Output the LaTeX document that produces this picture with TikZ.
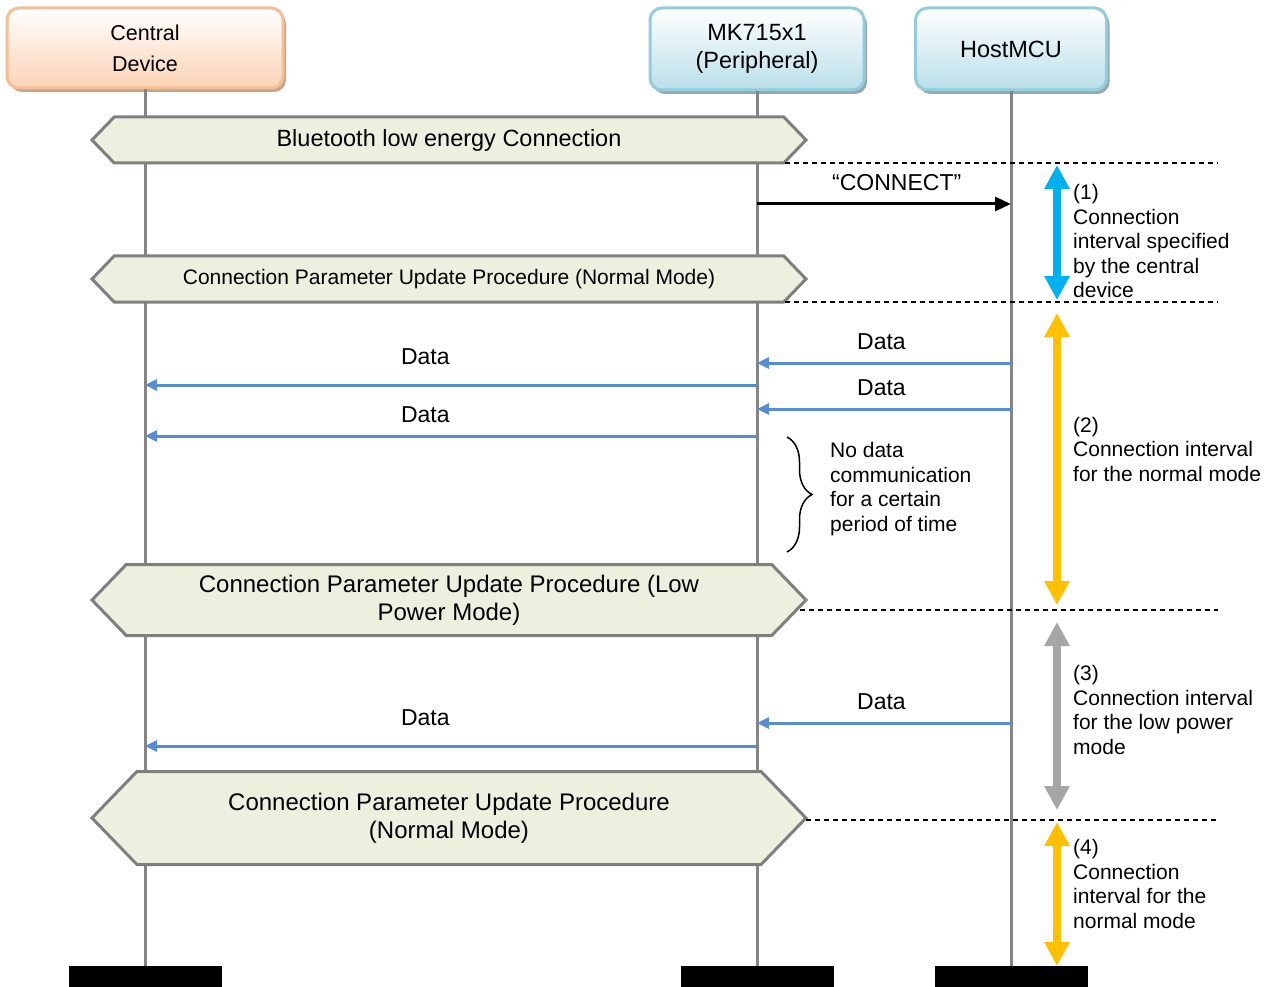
\documentclass[tikz,border=0pt]{standalone}
\usepackage{fontspec}
\setmainfont{Liberation Sans}
\usetikzlibrary{arrows.meta,positioning,shapes.symbols,shadows,decorations.pathreplacing}

\definecolor{orline}{HTML}{F6BE94}
\definecolor{orfill}{HTML}{FBD3B5}
\definecolor{orshade}{HTML}{C9A488}
\definecolor{blline}{HTML}{93CDDD}
\definecolor{blfill}{HTML}{B9DFE9}
\definecolor{blshade}{HTML}{93A9B0}
\definecolor{hexfill}{HTML}{EBF1DE}
\definecolor{hexline}{HTML}{7F7F7F}
\definecolor{lifegray}{HTML}{858585}
\definecolor{datablue}{HTML}{558ED5}
\definecolor{intcyan}{HTML}{00B0F0}
\definecolor{intgold}{HTML}{FFC000}
\definecolor{intgray}{HTML}{A6A6A6}

\tikzset{
    head/.style={rectangle, rounded corners=12pt, line width=3pt, align=center,
        minimum height=80pt, font=\fontsize{23.5}{28}\selectfont},
    cenbox/.style={draw=orline, top color=white, bottom color=orfill,
        drop shadow={shadow xshift=3pt, shadow yshift=-4pt, fill=orshade, opacity=1}},
    mkbox/.style={draw=blline, top color=white, bottom color=blfill,
        drop shadow={shadow xshift=3pt, shadow yshift=-4pt, fill=blshade, opacity=1}},
    bar/.style={fill=black, minimum width=153pt, minimum height=21pt, inner sep=0pt},
    life/.style={draw=lifegray, line width=3pt},
    hexa/.style={shape=signal, signal to=west and east, signal pointer angle=92,
        draw=hexline, fill=hexfill, line width=3pt, minimum width=714pt,
        align=center, inner sep=0pt},
    conn/.style={black, line width=3pt, -{Triangle[length=16pt,width=14pt]}},
    data/.style={datablue, line width=3pt, -{Triangle[length=12pt,width=11pt]}},
    intv/.style={line width=8pt, {Triangle[length=24pt,width=24pt]}-{Triangle[length=24pt,width=24pt]}},
    lbl/.style={inner sep=0pt, black, font=\fontsize{23}{28}\selectfont},
    note/.style={anchor=west, align=left, inner sep=0pt, font=\fontsize{21}{24.5}\selectfont},
    sep/.style={draw=black, line width=1.2pt, dash pattern=on 5pt off 4pt}
}

\begin{document}
\begin{tikzpicture}[x=1pt, y=-1pt]
    \useasboundingbox (0,0) rectangle (1280,987);

    % Header boxes {cen, mk, host}
    \node [head, cenbox, minimum width=276pt, font=\fontsize{21.5}{31}\selectfont]
                                   (cen)   at (145,48)    {Central\\Device};
    \node [head, mkbox, minimum width=214pt, minimum height=82pt]
                                   (mk)    at (757,49)    {MK715x1\\(Peripheral)};
    \node [head, mkbox, minimum width=191pt, minimum height=82pt]
                                   (host)  at (1011,49)   {HostMCU};

    % End bars
    \node [bar]                    (cenend)  at (145,976.5)  {};
    \node [bar]                    (mkend)   at (757,976.5)  {};
    \node [bar]                    (hostend) at (1011,976.5) {};

    % Lifelines
    \draw [life] (cen)  -- (cenend);
    \draw [life] (mk)   -- (mkend);
    \draw [life] (host) -- (hostend);

    % Procedures
    \node [hexa, minimum height=46pt, font=\fontsize{23.5}{28}\selectfont]
                                   (blec)  at (449,140)   {Bluetooth low energy Connection};
    \node [hexa, minimum height=46pt, font=\fontsize{21}{26}\selectfont]
                                   (cpun)  at (449,279)   {Connection Parameter Update Procedure (Normal Mode)};
    \node [hexa, minimum height=71pt, font=\fontsize{24}{28}\selectfont]
                                   (cpul)  at (449,600)   {Connection Parameter Update Procedure (Low\\Power Mode)};
    \node [hexa, minimum height=93pt, font=\fontsize{24}{28}\selectfont]
                                   (cpum)  at (449,818)   {Connection Parameter Update Procedure\\(Normal Mode)};

    % Points on the lifelines
    \coordinate (mk1)   at (757,204);   \coordinate (host1) at (1011,204);
    \coordinate (mk2)   at (757,363);   \coordinate (host2) at (1011,363);
    \coordinate (mk3)   at (757,409);   \coordinate (host3) at (1011,409);
    \coordinate (mk4)   at (757,385);   \coordinate (cen4)  at (145,385);
    \coordinate (mk5)   at (757,436);   \coordinate (cen5)  at (145,436);
    \coordinate (mk6)   at (757,723);   \coordinate (host6) at (1011,723);
    \coordinate (mk7)   at (757,746);   \coordinate (cen7)  at (145,746);

    % Messages
    \path [conn] (mk1)   edge node [lbl, above=12pt, pos=.55] {“CONNECT”} (host1);
    \path [data] (host2) edge node [lbl, above=12pt, pos=.51] {Data}      (mk2);
    \path [data] (host3) edge node [lbl, above=12pt, pos=.51] {Data}      (mk3);
    \path [data] (mk4)   edge node [lbl, above=19pt, pos=.542] {Data}     (cen4);
    \path [data] (mk5)   edge node [lbl, above=12pt, pos=.542] {Data}     (cen5);
    \path [data] (host6) edge node [lbl, above=12pt, pos=.51] {Data}      (mk6);
    \path [data] (mk7)   edge node [lbl, above=19pt, pos=.542] {Data}     (cen7);

    % Interval borders
    \coordinate (s1a) at (785,163);  \coordinate (s1b) at (1218,163);
    \coordinate (s2a) at (785,302);  \coordinate (s2b) at (1218,302);
    \coordinate (s3a) at (800,610);  \coordinate (s3b) at (1218,610);
    \coordinate (s4a) at (806,820);  \coordinate (s4b) at (1218,820);
    \draw [sep] (s1a) -- (s1b);
    \draw [sep] (s2a) -- (s2b);
    \draw [sep] (s3a) -- (s3b);
    \draw [sep] (s4a) -- (s4b);

    % Intervals
    \coordinate (i1a) at (1057,165);  \coordinate (i1b) at (1057,300);
    \coordinate (i2a) at (1057,313);  \coordinate (i2b) at (1057,605);
    \coordinate (i3a) at (1057,622);  \coordinate (i3b) at (1057,810);
    \coordinate (i4a) at (1057,822);  \coordinate (i4b) at (1057,966);
    \draw [intv, intcyan] (i1a) -- (i1b);
    \draw [intv, intgold] (i2a) -- (i2b);
    \draw [intv, intgray] (i3a) -- (i3b);
    \draw [intv, intgold] (i4a) -- (i4b);

    \node [note] (n1) at (1073,241) {(1)\\Connection\\interval specified\\by the central\\device};
    \node [note] (n2) at (1073,449) {(2)\\Connection interval\\for the normal mode};
    \node [note] (n3) at (1073,710) {(3)\\Connection interval\\for the low power\\mode};
    \node [note] (n4) at (1073,884) {(4)\\Connection\\interval for the\\normal mode};

    % Idle period
    \coordinate (br1) at (787,437);  \coordinate (br2) at (787,552);
    \draw [line width=1.5pt, decorate, decoration={brace, amplitude=25pt}] (br1) -- (br2);
    \node [note] (idle) at (830,489) {No data\\communication\\for a certain\\period of time};

\end{tikzpicture}
\end{document}
